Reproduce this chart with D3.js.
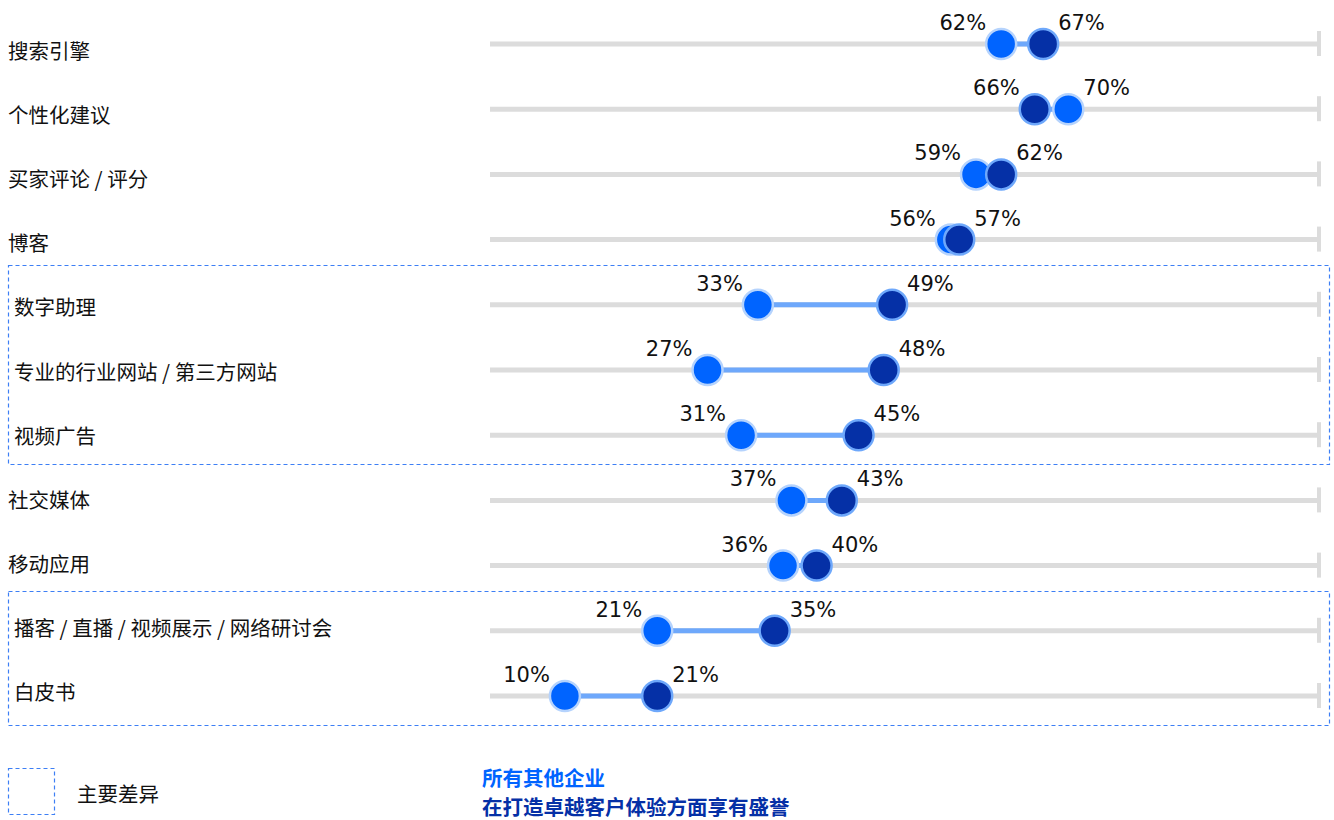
<!DOCTYPE html>
<html><head><meta charset="utf-8">
<script src="https://cdn.jsdelivr.net/npm/d3@7"></script>
<style>body{margin:0;background:#fff}svg{display:block}</style>
</head><body>
<svg id="c" width="1334" height="820"></svg>
<script>
const categories = ["搜索引擎","个性化建议","买家评论 / 评分","博客","数字助理","专业的行业网站 / 第三方网站","视频广告","社交媒体","移动应用","播客 / 直播 / 视频展示 / 网络研讨会","白皮书"];
const allOthers = [62,70,59,56,33,27,31,37,36,21,10];
const leaders   = [67,66,62,57,49,48,45,43,40,35,21];
const highlighted = [[4,6],[9,10]];
const seriesNames = ["所有其他企业","在打造卓越客户体验方面享有盛誉"];
const legendBoxLabel = "主要差异";

const cLight = "#0064ff", cDark = "#0530a6";
const svg = d3.select("#c");
const x = d3.scaleLinear().domain([0,100]).range([481,1320]);
const y = d3.scalePoint().domain(categories).range([44,696]);
const yLabel = d3.scalePoint().domain(categories).range([51,692]);
const fontCJK = "'Noto Sans CJK SC','Noto Sans',sans-serif";
const fontNum = "'DejaVu Sans',sans-serif";

// highlight boxes
highlighted.forEach(([a,b])=>{
  const y0 = Math.round(y(categories[a]) - 40) + 0.5, y1 = Math.round(y(categories[b]) + 29) + 0.5;
  svg.append("rect").attr("x",8.5).attr("y",y0).attr("width",1321).attr("height",y1-y0)
    .attr("fill","none").attr("stroke","#3d7ff5").attr("stroke-width",1.2).attr("stroke-dasharray","4,3");
});

// labels
svg.selectAll("text.cat").data(categories).join("text").attr("class","cat")
  .attr("x",(d,i)=>highlighted.some(([a,b])=>i>=a&&i<=b)?14:8).attr("y",d=>yLabel(d)+8)
  .attr("font-family",fontCJK).attr("font-size",20.5).attr("fill","#111").text(d=>d);

const rows = svg.selectAll("g.row").data(categories).join("g").attr("class","row")
  .attr("transform",d=>`translate(0,${y(d)})`);

// tracks
rows.append("line").attr("x1",490).attr("x2",1320).attr("y1",0).attr("y2",0)
  .attr("stroke","#dcdcdc").attr("stroke-width",5);
rows.append("line").attr("x1",1319).attr("x2",1319).attr("y1",-13).attr("y2",12)
  .attr("stroke","#dcdcdc").attr("stroke-width",4);

// connectors
rows.append("line").attr("x1",(d,i)=>x(allOthers[i])).attr("x2",(d,i)=>x(leaders[i]))
  .attr("y1",0).attr("y2",0).attr("stroke","#6ea8fb").attr("stroke-width",5);

// dots
rows.append("circle").attr("cx",(d,i)=>x(allOthers[i])).attr("cy",0).attr("r",15)
  .attr("fill",cLight).attr("stroke","#b5d3fd").attr("stroke-width",2.5);
rows.append("circle").attr("cx",(d,i)=>x(leaders[i])).attr("cy",0).attr("r",15)
  .attr("fill",cDark).attr("stroke","#6ea8fb").attr("stroke-width",2.5);

// value labels
rows.each(function(d,i){
  const g = d3.select(this);
  const a = allOthers[i], b = leaders[i];
  const lo = Math.min(a,b), hi = Math.max(a,b);
  g.append("text").attr("x",x(lo)-15).attr("y",-14).attr("text-anchor","end")
    .attr("font-family",fontNum).attr("font-size",21).attr("fill","#111").text(lo+"%");
  g.append("text").attr("x",x(hi)+15).attr("y",-14).attr("text-anchor","start")
    .attr("font-family",fontNum).attr("font-size",21).attr("fill","#111").text(hi+"%");
});

// legend
svg.append("rect").attr("x",8.5).attr("y",768.5).attr("width",46).attr("height",46)
  .attr("fill","none").attr("stroke","#3d7ff5").attr("stroke-width",1.2).attr("stroke-dasharray","4,3");
svg.append("text").attr("x",77).attr("y",802).attr("font-family",fontCJK).attr("font-size",20.5)
  .attr("fill","#111").text(legendBoxLabel);
svg.append("text").attr("x",482).attr("y",786).attr("font-family",fontCJK).attr("font-size",20.5)
  .attr("font-weight","bold").attr("fill",cLight).text(seriesNames[0]);
svg.append("text").attr("x",482).attr("y",815).attr("font-family",fontCJK).attr("font-size",20.5)
  .attr("font-weight","bold").attr("fill",cDark).text(seriesNames[1]);
</script>
</body></html>
